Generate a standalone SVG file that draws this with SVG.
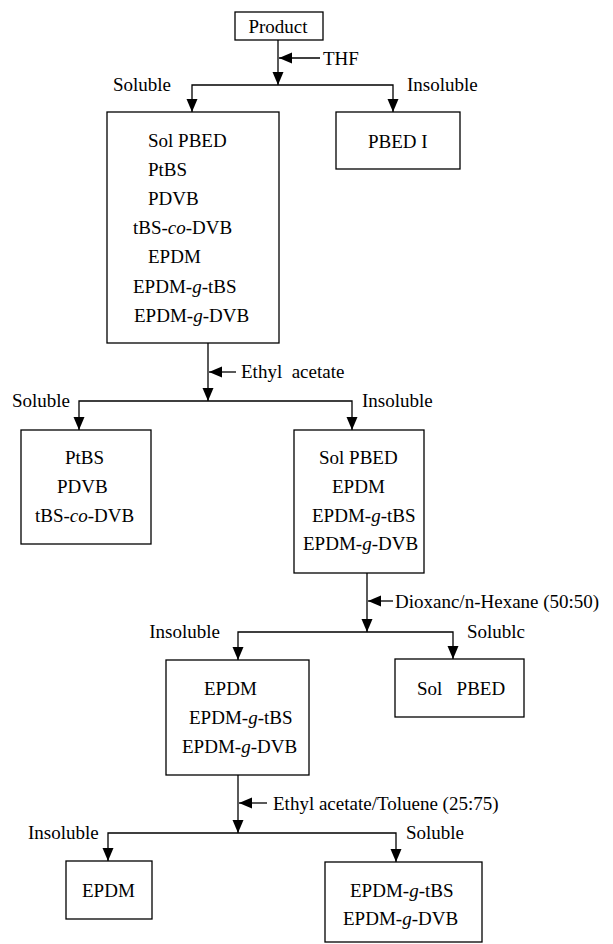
<svg xmlns="http://www.w3.org/2000/svg" width="613" height="944" viewBox="0 0 613 944" font-family="'Liberation Serif', 'Times New Roman', Tinos, 'DejaVu Serif', serif">
<style>
text{font-family:"Liberation Serif","Times New Roman",Tinos,"DejaVu Serif",serif;font-size:19px;fill:#000}
.i{font-style:italic}
.box{fill:#fff;stroke:#000;stroke-width:1.3}
.ln{fill:none;stroke:#000;stroke-width:1.3;marker-end:url(#ah)}
</style>
<defs>
<marker id="ah" markerUnits="userSpaceOnUse" markerWidth="14" markerHeight="12" refX="13" refY="5.5" orient="auto">
<path d="M0,0 L13,5.5 L0,11 z" fill="#000"/>
</marker>
</defs>
<rect width="613" height="944" fill="#fff"/>
<g id="connectors">
<path class="ln" d="M278,40 V85"/>
<path class="ln" d="M320,58 H279"/>
<path class="ln" d="M278,85 H192 V112"/>
<path class="ln" d="M278,85 H393 V112"/>
<path class="ln" d="M208,343 V401"/>
<path class="ln" d="M236,372 H209"/>
<path class="ln" d="M208,401 H79 V430"/>
<path class="ln" d="M208,401 H352 V430"/>
<path class="ln" d="M367,573 V632"/>
<path class="ln" d="M393,601 H368"/>
<path class="ln" d="M367,632 H238 V660"/>
<path class="ln" d="M367,632 H453 V659"/>
<path class="ln" d="M238,775 V833"/>
<path class="ln" d="M267,803 H239"/>
<path class="ln" d="M238,833 H108 V861"/>
<path class="ln" d="M238,833 H396 V862"/>
</g>
<g id="labels">
<text x="323" y="65">THF</text>
<text x="113" y="91">Soluble</text>
<text x="407" y="91">Insoluble</text>
<text x="241" y="378" xml:space="preserve">Ethyl  acetate</text>
<text x="12" y="407">Soluble</text>
<text x="362" y="407">Insoluble</text>
<text x="395" y="608">Dioxanc/n-Hexane (50:50)</text>
<text x="220" y="638" text-anchor="end">Insoluble</text>
<text x="467" y="638">Solublc</text>
<text x="273" y="810">Ethyl acetate/Toluene (25:75)</text>
<text x="28" y="839">Insoluble</text>
<text x="406" y="839">Soluble</text>
</g>
<g id="product">
<rect class="box" x="235" y="12" width="88" height="28"/>
<text x="278" y="33" text-anchor="middle">Product</text>
</g>
<g id="thf-soluble">
<rect class="box" x="107" y="112" width="172" height="231"/>
<text x="148" y="147">Sol PBED</text>
<text x="148" y="176">PtBS</text>
<text x="148" y="205">PDVB</text>
<text x="133" y="234">tBS-<tspan class="i">co</tspan>-DVB</text>
<text x="148" y="263">EPDM</text>
<text x="133" y="293">EPDM-<tspan class="i">g</tspan>-tBS</text>
<text x="134" y="322">EPDM-<tspan class="i">g</tspan>-DVB</text>
</g>
<g id="thf-insoluble">
<rect class="box" x="336" y="112" width="124" height="57"/>
<text x="368" y="148">PBED I</text>
</g>
<g id="ea-soluble">
<rect class="box" x="21" y="430" width="130" height="114"/>
<text x="65" y="464">PtBS</text>
<text x="57" y="493">PDVB</text>
<text x="35" y="522">tBS-<tspan class="i">co</tspan>-DVB</text>
</g>
<g id="ea-insoluble">
<rect class="box" x="294" y="430" width="130" height="143"/>
<text x="319" y="464">Sol PBED</text>
<text x="332" y="493">EPDM</text>
<text x="312" y="522">EPDM-<tspan class="i">g</tspan>-tBS</text>
<text x="303" y="550">EPDM-<tspan class="i">g</tspan>-DVB</text>
</g>
<g id="dh-insoluble">
<rect class="box" x="166" y="660" width="143" height="115"/>
<text x="204" y="695">EPDM</text>
<text x="189" y="724">EPDM-<tspan class="i">g</tspan>-tBS</text>
<text x="182" y="753">EPDM-<tspan class="i">g</tspan>-DVB</text>
</g>
<g id="dh-soluble">
<rect class="box" x="395" y="659" width="129" height="58"/>
<text x="417" y="695" xml:space="preserve">Sol   PBED</text>
</g>
<g id="et-insoluble">
<rect class="box" x="66" y="861" width="86" height="58"/>
<text x="82" y="897">EPDM</text>
</g>
<g id="et-soluble">
<rect class="box" x="325" y="862" width="157" height="80"/>
<text x="350" y="897">EPDM-<tspan class="i">g</tspan>-tBS</text>
<text x="343" y="925">EPDM-<tspan class="i">g</tspan>-DVB</text>
</g>
</svg>
